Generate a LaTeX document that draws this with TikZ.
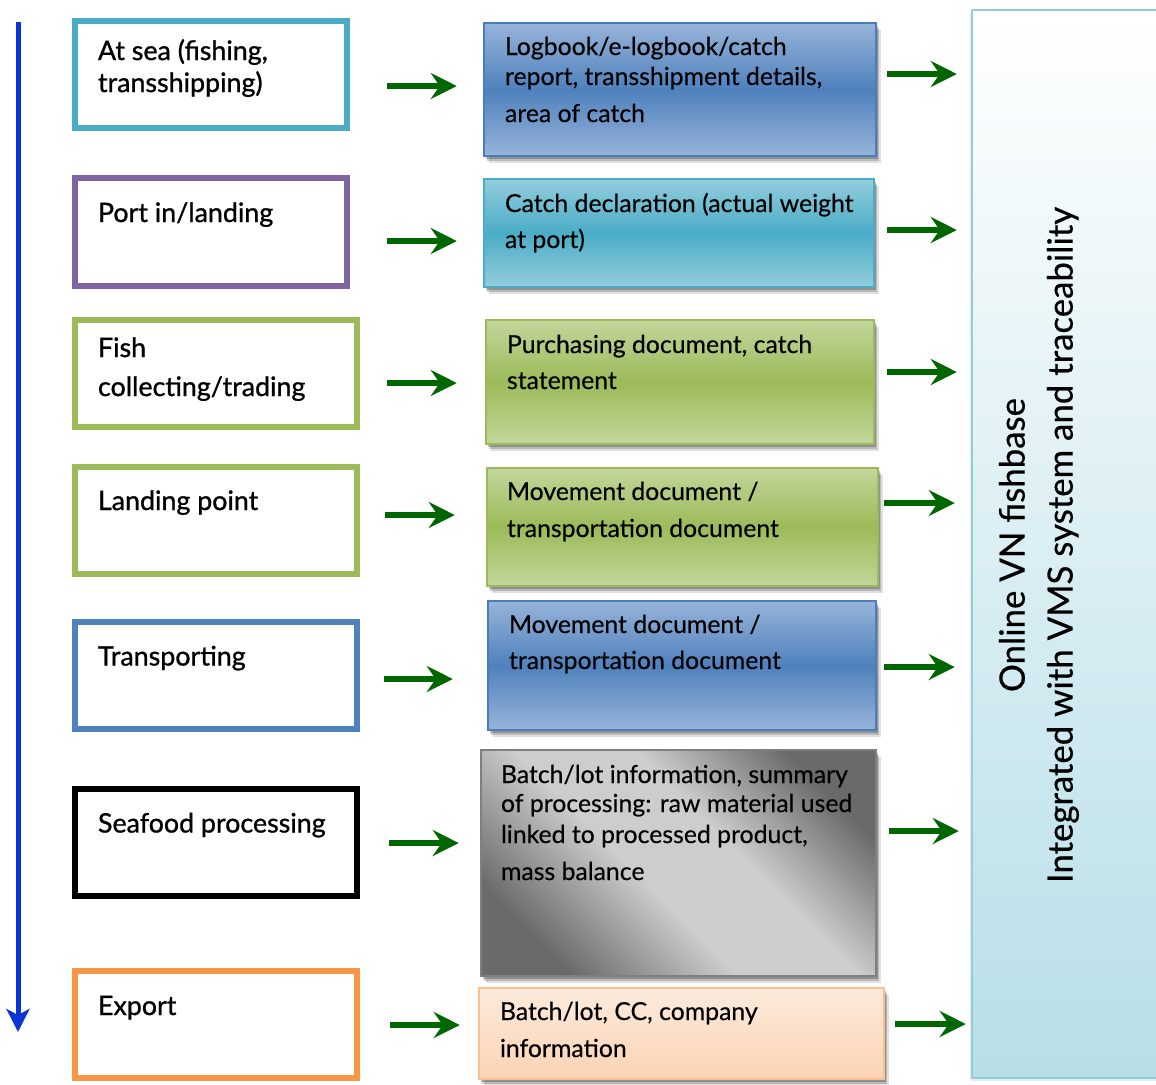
\documentclass[tikz,border=0pt]{standalone}
\usepackage{fontspec}
\setmainfont{Lato}
\newfontfamily\stagefont{Lato}[FakeBold=1.0]
\newfontfamily\docfont{Lato}[FakeBold=0.35]
\newfontfamily\dbfont{Lato}[FakeBold=0.5]
\usetikzlibrary{fit,arrows.meta,shadows}
\definecolor{cAqua}{HTML}{4BACC6}
\definecolor{cAquaL}{HTML}{93CDDD}
\definecolor{cPurple}{HTML}{8064A2}
\definecolor{cGreen}{HTML}{9BBB59}
\definecolor{cGreenL}{HTML}{C3D69B}
\definecolor{cBlue}{HTML}{4F81BD}
\definecolor{cBlueL}{HTML}{97B4D9}
\definecolor{cBlueD}{HTML}{4A7EBB}
\definecolor{cOrange}{HTML}{F79646}
\definecolor{cOrangeB}{HTML}{FAC090}
\definecolor{cOrangeT}{HTML}{FDEBDD}
\definecolor{cOrangeM}{HTML}{FBD3B3}
\definecolor{cGreyD}{HTML}{6A6A6A}
\definecolor{cGreyL}{HTML}{CDCDCD}
\definecolor{cGreyB}{HTML}{7F7F7F}
\definecolor{cDbB}{HTML}{92CDDC}
\definecolor{cDbF}{HTML}{B7DEE8}
\definecolor{arrGreen}{HTML}{006600}
\definecolor{arrBlue}{RGB}{12,52,214}
\pgfdeclareverticalshading{greyband}{100bp}{color(0bp)=(cGreyD); color(25bp)=(cGreyD); color(44bp)=(cGreyL); color(58bp)=(cGreyL); color(75bp)=(cGreyD); color(100bp)=(cGreyD)}
\begin{document}
\begin{tikzpicture}[x=0.5pt,y=-0.5pt,
  stagebox/.style={draw=#1, line width=3pt, inner sep=0pt, fill=white},
  docbox/.style={draw=#1, line width=1.25pt, inner sep=0pt,
    drop shadow={shadow xshift=2.5pt, shadow yshift=-3.5pt, opacity=0.12, fill=black},
    drop shadow={shadow xshift=1.5pt, shadow yshift=-2.5pt, opacity=0.18, fill=black},
    drop shadow={shadow xshift=0.8pt, shadow yshift=-1.5pt, opacity=0.22, fill=black}},
  slbl/.style={anchor=north west, inner sep=0pt, outer sep=0pt, align=left, font=\stagefont\fontsize{13.4}{16}\selectfont},
  lbl/.style={anchor=north west, inner sep=0pt, outer sep=0pt, align=left, font=\docfont\fontsize{12.4}{16}\selectfont},
  garrow/.style={draw=arrGreen, line width=2.75pt, -{Stealth[length=13pt,width=13pt,inset=4.5pt]}},
  flowarrow/.style={draw=arrBlue, line width=2.5pt, -{Stealth[length=11.5pt,width=11.5pt,inset=3pt]}},
]
\useasboundingbox (0,0) rectangle (1156,1084);

% database box
\node[draw=cDbB, line width=1.25pt, inner sep=0pt, top color=white, bottom color=cDbF,
  drop shadow={shadow xshift=-1pt, shadow yshift=-1.5pt, opacity=0.08, fill=black},
  fit={(972,10) (1175,1078)}] (db) {};
\node[rotate=90, align=center, inner sep=0pt, font=\dbfont\fontsize{17.4}{24}\selectfont] (dbt) at (1039,545)
  {\strut Online VN fishbase\\\strut Integrated with VMS system and traceability};

% flow arrow
\coordinate (ftop) at (18,22);
\coordinate (fbot) at (18,1032);
\draw[flowarrow] (ftop) -- (fbot);

% stage boxes
\node[stagebox=cAqua,   fit={(75,21) (347,128)}]   (s1) {};
\node[stagebox=cPurple, fit={(75,178) (347,286)}]  (s2) {};
\node[stagebox=cGreen,  fit={(75,320) (357,427)}]  (s3) {};
\node[stagebox=cGreen,  fit={(75,467) (357,574)}]  (s4) {};
\node[stagebox=cBlue,   fit={(75,622) (357,729)}]  (s5) {};
\node[stagebox=black,   fit={(75,789) (357,896)}]  (s6) {};
\node[stagebox=cOrange, fit={(75,971) (357,1078)}] (s7) {};

\node[slbl] (s1t) at (98,37.6)  {\strut At sea (fishing,\\transshipping)};
\node[slbl] (s2t) at (98,199.6) {\strut Port in/landing};
\node[slbl] (s3t) at (98,334.6) {\strut Fish\\[3.5pt]collecting/trading};
\node[slbl] (s4t) at (98,487.6) {\strut Landing point};
\node[slbl] (s5t) at (98,643.1) {\strut Transporting};
\node[slbl] (s6t) at (98,810.1) {\strut Seafood processing};
\node[slbl] (s7t) at (98,992.6) {\strut Export};

% document boxes
\node[docbox=cBlueD, top color=cBlueL, bottom color=cBlueL, middle color=cBlue, fit={(484,23) (876,156)}] (m1) {};
\node[docbox=cAqua, top color=cAquaL, bottom color=cAquaL, middle color=cAqua, fit={(484,179) (874,287)}] (m2) {};
\node[docbox=cGreen, top color=cGreenL, bottom color=cGreenL, middle color=cGreen, fit={(486,320) (874,444)}] (m3) {};
\node[docbox=cGreen, top color=cGreenL, bottom color=cGreenL, middle color=cGreen, fit={(487,468) (878,586)}] (m4) {};
\node[docbox=cBlueD, top color=cBlueL, bottom color=cBlueL, middle color=cBlue, fit={(488,601) (876,730)}] (m5) {};
\node[docbox=cGreyB, shading=greyband, shading angle=-45, fit={(481,750) (876,976)}] (m6) {};
\node[docbox=cOrangeB, top color=cOrangeT, bottom color=cOrangeM, fit={(479,988) (884,1079)}] (m7) {};

\node[lbl] (m1t) at (505,32.6)  {\strut Logbook/e-logbook/catch\\[-1pt]report, transshipment details,\\[2.5pt]area of catch};
\node[lbl] (m2t) at (505,189.6) {\strut Catch declaration (actual weight\\[2pt]at port)};
\node[lbl] (m3t) at (507,330.6) {\strut Purchasing document, catch\\[2pt]statement};
\node[lbl] (m4t) at (507,477.6) {\strut Movement document /\\[2.5pt]transportation document};
\node[lbl] (m5t) at (509,610.6) {\strut Movement document /\\[2pt]transportation document};
\node[lbl] (m6t) at (501,760.6) {\strut Batch/lot information, summary\\[-1.5pt]of processing: raw material used\\[-0.5pt]linked to processed product,\\[2.5pt]mass balance};
\node[lbl] (m7t) at (500,997.6) {\strut Batch/lot, CC, company\\[2.5pt]information};

% arrows stage -> document
\draw[garrow, shorten <=18.5pt, shorten >=13pt]   (s1.east |- 0,86)   -- (m1.west |- 0,86);
\draw[garrow, shorten <=18.5pt, shorten >=13pt]   (s2.east |- 0,241)  -- (m2.west |- 0,241);
\draw[garrow, shorten <=13.5pt, shorten >=14pt]   (s3.east |- 0,383)  -- (m3.west |- 0,383);
\draw[garrow, shorten <=12.5pt, shorten >=15.5pt] (s4.east |- 0,515)  -- (m4.west |- 0,515);
\draw[garrow, shorten <=12pt,   shorten >=17pt]   (s5.east |- 0,679)  -- (m5.west |- 0,679);
\draw[garrow, shorten <=14.5pt, shorten >=10.5pt] (s6.east |- 0,843)  -- (m6.west |- 0,843);
\draw[garrow, shorten <=15pt,   shorten >=9pt]    (s7.east |- 0,1025) -- (m7.west |- 0,1025);

% arrows document -> database
\draw[garrow, shorten <=5pt,   shorten >=7pt]   (m1.east |- 0,74)   -- (db.west |- 0,74);
\draw[garrow, shorten <=6pt,   shorten >=7pt]   (m2.east |- 0,230)  -- (db.west |- 0,230);
\draw[garrow, shorten <=6pt,   shorten >=7pt]   (m3.east |- 0,372)  -- (db.west |- 0,372);
\draw[garrow, shorten <=2.5pt, shorten >=8pt]   (m4.east |- 0,503)  -- (db.west |- 0,503);
\draw[garrow, shorten <=3.5pt, shorten >=8pt]   (m5.east |- 0,667)  -- (db.west |- 0,667);
\draw[garrow, shorten <=6pt,   shorten >=6pt]   (m6.east |- 0,831)  -- (db.west |- 0,831);
\draw[garrow, shorten <=5pt,   shorten >=2.5pt] (m7.east |- 0,1024) -- (db.west |- 0,1024);
\end{tikzpicture}
\end{document}
